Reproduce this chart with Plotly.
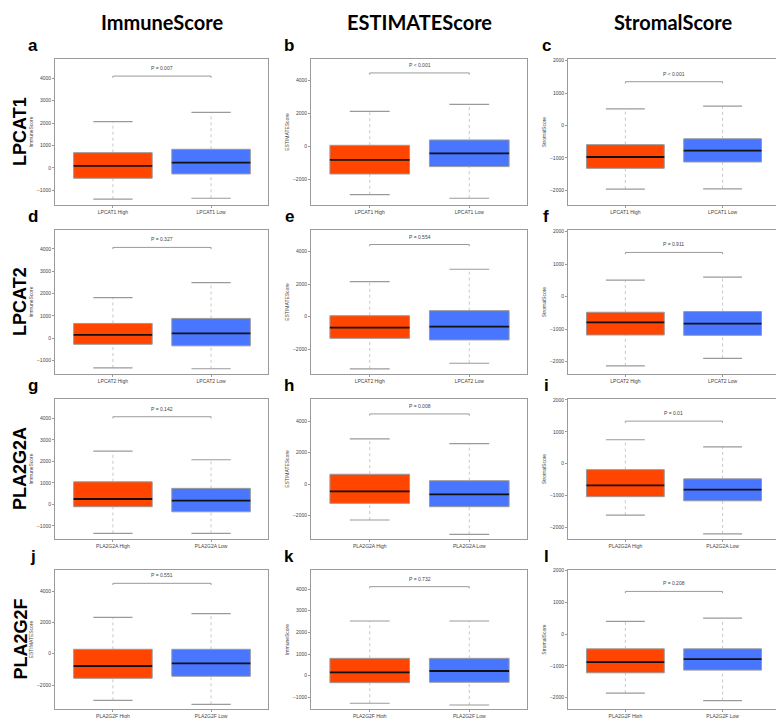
import plotly.graph_objects as go

# ---------------- data ----------------
genes = ["LPCAT1", "LPCAT2", "PLA2G2A", "PLA2G2F"]
scores = ["ImmuneScore", "ESTIMATEScore", "StromalScore"]
letters = list("abcdefghijkl")
y_titles = ["ImmuneScore", "ESTIMATEScore", "StromalScore",
            "ImmuneScore", "ESTIMATEScore", "StromalScore",
            "ImmuneScore", "ESTIMATEScore", "StromalScore",
            "ESTIMATEScore", "ImmuneScore", "StromalScore"]

# [lower whisker, q1, median, q3, upper whisker]
high_stats = [
    [-1390, -460, 90, 680, 2060],
    [-2950, -1690, -835, 60, 2130],
    [-1960, -1320, -970, -590, 515],
    [-1330, -270, 150, 665, 1820],
    [-3210, -1330, -675, 60, 2150],
    [-2130, -1180, -790, -480, 505],
    [-1350, -110, 250, 1050, 2480],
    [-2290, -1230, -465, 620, 2870],
    [-1620, -1040, -685, -190, 750],
    [-2975, -1570, -785, 280, 2320],
    [-1275, -325, 155, 800, 2525],
    [-1860, -1220, -885, -465, 400],
]
low_stats = [
    [-1350, -267, 236, 831, 2475],
    [-3170, -1240, -430, 385, 2560],
    [-1950, -1125, -775, -410, 600],
    [-1365, -340, 220, 890, 2490],
    [-2860, -1430, -615, 370, 2910],
    [-1900, -1190, -830, -460, 600],
    [-1350, -345, 170, 745, 2075],
    [-3200, -1445, -655, 210, 2570],
    [-2210, -1170, -820, -480, 525],
    [-3230, -1440, -615, 280, 2550],
    [-1355, -305, 215, 800, 2525],
    [-2095, -1135, -790, -465, 505],
]
p_texts = ["P = 0.007", "P < 0.001", "P < 0.001",
           "P = 0.327", "P = 0.554", "P = 0.911",
           "P = 0.142", "P = 0.008", "P = 0.01",
           "P = 0.551", "P = 0.732", "P = 0.208"]
p_line_y = [4090, 4470, 1350, 4070, 4430, 1360, 4075, 4460, 1335, 4490, 4110, 1345]
y_ranges = [
    [-1650, 4850], [-3580, 5320], [-2450, 2050],
    [-1600, 4850], [-3520, 5320], [-2380, 2050],
    [-1610, 4900], [-3500, 5410], [-2370, 2030],
    [-3530, 5340], [-1540, 4880], [-2360, 2020],
]

# ---------------- layout geometry ----------------
OFF = 8  # page body margin
W, H = 784 - OFF, 718 - OFF
col_px = [(55, 268), (311, 527), (568, 779)]
row_px = [(59, 205), (230, 374), (399, 539), (570, 709)]
RED = "#FF4500"
BLUE = "#4876FF"
GRAY = "#9a9a9a"
SMALL = dict(family="Liberation Sans, Arial, sans-serif", size=5, color="#444444")


def px_x(v):
    return (v - OFF) / W


def px_y(v):
    return 1 - (v - OFF) / H


fig = go.Figure()
layout = dict(
    width=W, height=H, margin=dict(l=0, r=0, t=0, b=0, autoexpand=False),
    plot_bgcolor="white", paper_bgcolor="white", showlegend=False,
    annotations=[], shapes=[],
)

for k in range(12):
    r, c = divmod(k, 3)
    n = k + 1
    xa = "x" if n == 1 else f"x{n}"
    ya = "y" if n == 1 else f"y{n}"
    xkey = "xaxis" if n == 1 else f"xaxis{n}"
    ykey = "yaxis" if n == 1 else f"yaxis{n}"
    x0, x1 = col_px[c]
    y0, y1 = row_px[r]
    hs, ls = high_stats[k], low_stats[k]
    stats = [hs, ls]

    # whisker stems (dotted)
    sx, sy = [], []
    for i, s in enumerate(stats):
        sx += [i, i, None, i, i, None]
        sy += [s[0], s[1], None, s[3], s[4], None]
    fig.add_trace(go.Scatter(x=sx, y=sy, mode="lines", xaxis=xa, yaxis=ya,
                             line=dict(color="#b0b0b0", width=0.7, dash="dot"),
                             hoverinfo="skip"))
    # whisker caps
    cx, cy = [], []
    for i, s in enumerate(stats):
        for v in (s[0], s[4]):
            cx += [i - 0.2, i + 0.2, None]
            cy += [v, v, None]
    fig.add_trace(go.Scatter(x=cx, y=cy, mode="lines", xaxis=xa, yaxis=ya,
                             line=dict(color=GRAY, width=1.2), hoverinfo="skip"))
    # boxes
    fig.add_trace(go.Bar(x=[0, 1], y=[hs[3] - hs[1], ls[3] - ls[1]], base=[hs[1], ls[1]],
                         width=0.8, xaxis=xa, yaxis=ya,
                         marker=dict(color=[RED, BLUE], line=dict(color=GRAY, width=1))))
    # medians
    mx, my = [], []
    for i, s in enumerate(stats):
        mx += [i - 0.4, i + 0.4, None]
        my += [s[2], s[2], None]
    fig.add_trace(go.Scatter(x=mx, y=my, mode="lines", xaxis=xa, yaxis=ya,
                             line=dict(color="#111111", width=1.8), hoverinfo="skip"))
    # p-value bracket
    py = p_line_y[k]
    span = y_ranges[k][1] - y_ranges[k][0]
    tick = span * 0.012
    fig.add_trace(go.Scatter(x=[0, 0, 1, 1], y=[py - tick, py, py, py - tick], mode="lines",
                             xaxis=xa, yaxis=ya, line=dict(color=GRAY, width=1),
                             hoverinfo="skip"))
    layout["annotations"].append(dict(x=0.5, y=py, xref=xa, yref=ya, text=p_texts[k],
                                      showarrow=False, yanchor="bottom", yshift=3,
                                      font=SMALL))

    dtick = 2000 if y_titles[k] == "ESTIMATEScore" else 1000
    layout[xkey] = dict(domain=[px_x(x0), px_x(x1)], anchor=ya, range=[-0.59, 1.58],
                        tickvals=[0, 1], ticktext=[f"{genes[r]} High", f"{genes[r]} Low"],
                        tickfont=SMALL, showline=True, mirror=True, linecolor=GRAY,
                        linewidth=1, ticks="outside", ticklen=2, tickcolor=GRAY,
                        showgrid=False, zeroline=False, fixedrange=True)
    layout[ykey] = dict(domain=[px_y(y1), px_y(y0)], anchor=xa, range=y_ranges[k],
                        dtick=dtick, tick0=0, tickfont=SMALL, showline=True, mirror=True,
                        linecolor=GRAY, linewidth=1, ticks="outside", ticklen=2,
                        tickcolor=GRAY, showgrid=False, zeroline=False,
                        title=dict(text=y_titles[k], font=SMALL, standoff=3),
                        fixedrange=True)
    # panel letter
    layout["annotations"].append(dict(x=px_x(x0 - 22), y=px_y(y0 - 2), xref="paper",
                                      yref="paper", text=letters[k], showarrow=False,
                                      xanchor="center", yanchor="bottom",
                                      font=dict(family="Liberation Sans, Arial", size=17,
                                                color="black", weight="bold")))

# column titles
for c, name in enumerate(scores):
    x0, x1 = col_px[c]
    layout["annotations"].append(dict(x=px_x((x0 + x1) / 2), y=px_y(8), xref="paper",
                                      yref="paper", text=f"<b>{name}</b>", showarrow=False,
                                      xanchor="center", yanchor="top",
                                      font=dict(family="Lato, Open Sans, sans-serif", size=20,
                                                color="black")))
# row titles
for r, g in enumerate(genes):
    y0, y1 = row_px[r]
    layout["annotations"].append(dict(x=px_x(8), y=px_y((y0 + y1) / 2), xref="paper",
                                      yref="paper", text=f"<b>{g}</b>", showarrow=False,
                                      textangle=-90, xanchor="left", yanchor="middle",
                                      font=dict(family="Liberation Sans, Arial", size=18,
                                                color="black")))

fig.update_layout(**layout)
fig.write_html("out.html")
